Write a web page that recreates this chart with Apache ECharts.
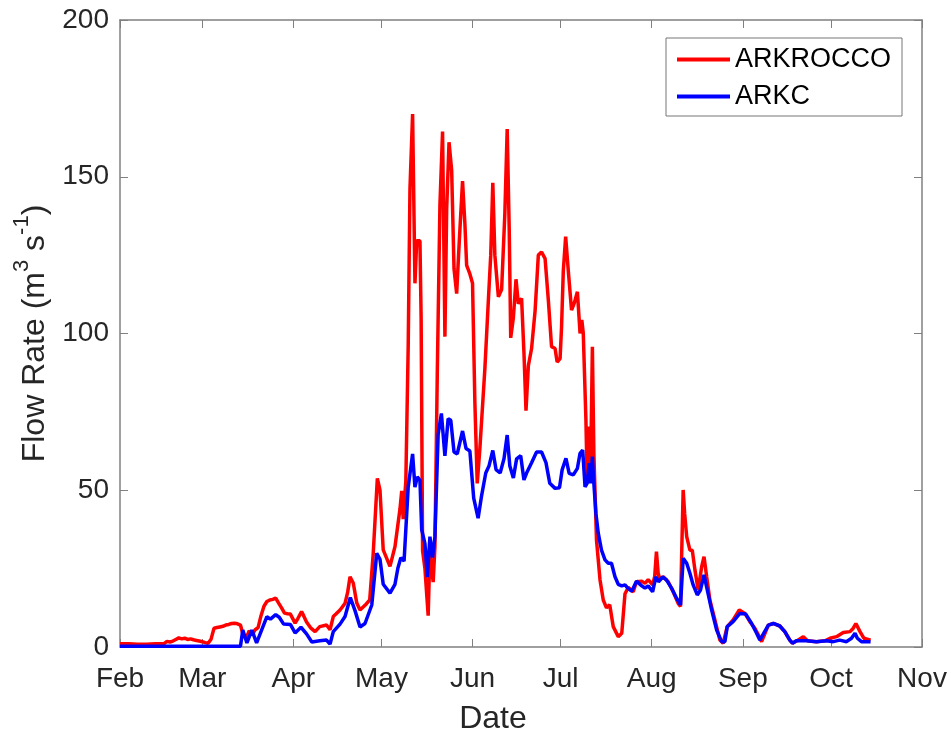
<!DOCTYPE html>
<html>
<head>
<meta charset="utf-8">
<script src="https://cdn.jsdelivr.net/npm/echarts@6/dist/echarts.min.js"></script>
<style>
html,body{margin:0;padding:0;background:#fff;}
#chart{width:951px;height:734px;}
</style>
</head>
<body>
<div id="chart"></div>
<script>
// x = days since Feb 1 (non-leap year)
var monthTicks = [0, 28, 59, 89, 120, 150, 181, 212, 242, 273];
var monthLabels = ['Feb', 'Mar', 'Apr', 'May', 'Jun', 'Jul', 'Aug', 'Sep', 'Oct', 'Nov'];
var yTicks = [0, 50, 100, 150, 200];

var rockDays = [0,3,6,9,12,15,16,17,18,19,20,21,22,23,24,25,26,27,28,29,30,31,32,33,34,35,36,37,38,39,40,41,42,43,44,45,46,47,48,49,50,51,52,53,54,55,56,57,58,59.6,60.5,61.8,62.5,63.5,65,66.4,68,70.3,71.5,72,72.6,73.5,74.9,76.6,77.5,78.3,79.4,80.6,81.7,83.4,85,86.2,87.6,88.5,89.6,91.9,93.6,95.3,95.9,96.4,97.3,98.1,98.7,99.6,100.4,101,102.1,102.5,103,103.8,104.9,105.5,106.6,107.2,108,108.9,109.8,110.6,111.2,112,112.9,113.7,114.6,115.5,116.6,117.4,118,119.1,120,120.8,121.6,122.5,124.2,125.4,126.2,126.9,127.6,128.8,129.9,131,131.8,132.5,133,133.9,134.8,135.6,136.7,137.5,138.2,139,140.1,141.3,142.4,143.5,144.7,145.8,146.9,148.1,148.8,149.8,150.3,150.9,151.7,152.6,153.7,154.6,155.7,156.6,157.2,157.7,158.6,159,159.7,160.2,160.8,161.3,162.2,163.4,164.5,165.6,166.7,167.9,169.6,170.8,171.9,173,174.7,175.8,177.6,178.7,179.8,181.3,182,182.6,183.2,183.8,184.9,186.6,188.3,190,190.8,191.2,191.7,192.2,192.9,194,194.8,195.7,196.8,198,198.8,199.7,200.8,202.5,204.2,205.3,206.7,208.7,210.8,212.7,214.4,216.1,217.6,218.4,220.7,222.4,224.6,226.3,228,228.9,230.5,232.6,234,237,240,241.7,243.9,246.2,248.5,249.6,250.5,251.9,253.2,255.5];
var rockVals = [1.0,1.0,0.9,0.9,1.0,1.1,1.8,1.6,1.9,2.4,2.9,2.6,2.8,2.4,2.6,2.3,2.1,1.9,1.7,1.4,1.2,2.5,6.0,6.2,6.4,6.6,7.0,7.2,7.5,7.6,7.4,7.0,3.5,3.0,5.2,3.8,5.5,6.2,10.0,13.0,14.5,15.0,15.2,15.6,14.0,12.5,10.8,10.6,10.5,7.6,9.0,11.3,10.0,8.0,6.0,4.9,6.5,7.0,5.5,4.9,9.7,10.5,11.8,13.9,17.5,22.4,20.4,14.0,11.8,13.3,15.0,29.9,53.8,50,31,25.7,32,44,49.8,40.8,53,95.8,146,170,116,129.6,129.6,105,30.7,25,10,30.7,20.7,32,86.9,140.8,164.4,99,139.7,161,152,120.6,112.7,129.6,148.6,135,121.7,119,116,78,52.2,63.3,88.7,110.7,125,148.1,125,111.7,114,138.2,165.2,132.7,98.6,105,117.3,109.5,111.2,94,75.4,89.7,95.2,107.3,125,126,123.9,110.7,95.8,95.2,90.9,92,102,120,130.9,120,107.5,109.6,113.3,100,104.3,100,72.4,53.3,70.3,56.5,95.8,61.8,34.1,21.4,15,12.5,13.5,6.5,3.3,4.4,17,19,17.6,20.8,21,20.3,21.5,19.8,22.4,30.4,23.5,21.4,22.4,20.8,17.6,13.9,12.9,29.9,50.1,42.6,35.2,30.9,30.9,24.6,18.2,25.6,28.8,22.4,15,8.6,2.2,1.2,6.5,8.6,11.8,10.7,8.1,6,3.3,1.7,7,7.5,6.7,4.9,2.2,1.2,2,3.3,2,1.7,2,2.8,3.3,4.6,4.9,6,7.5,4.9,2.8,2.2];

var arkcDays = [0,41,41.8,43.2,44.9,46.5,48.2,50,51.2,53,54.2,55.7,58,59.6,61.6,63.5,65.3,68,70.3,71.5,72.6,74.9,76.6,78.4,80,81.7,83.4,85.7,87.4,88.5,89.6,91.9,93.6,94.6,95.6,96.7,98.1,99.6,100.4,101.2,102.1,102.7,103.8,104.6,105.5,106.4,107.2,108.3,109.4,110.6,111.7,112.6,113.7,114.8,116.6,117.8,119.1,120.4,121.9,123,124.5,125.6,126.9,128,129.4,130.7,131.8,132.7,133.9,135,136.4,137.5,138.4,140.1,141.8,143.5,145,146.3,148.1,149.6,150.5,151.8,152.9,154.3,155.7,156.6,157.5,158.3,159,159.7,160.2,160.8,161.3,162,162.8,163.9,165.1,166.2,167.3,168.5,169.6,170.8,171.9,173,174.2,175.8,177.6,178.7,179.8,181.3,182.4,183.3,184.7,186,187.8,189.5,190.8,191.7,192.9,194,195.1,196.5,197.6,198.8,199.9,201.4,203.1,204.8,205.9,206.7,208.7,211,213,215,216.7,217.8,218.4,220.7,222.4,224.6,226.3,228,228.9,230.2,233.7,237.1,240.5,242.8,245,247.3,249,250.2,251,252.4,255.5];
var arkcVals = [0.2,0.2,5.4,1.3,5.4,1.3,5.4,9.7,8.9,10.3,9.5,7.3,7.2,4.5,6.3,4.2,1.6,2,2.2,0.9,4.9,7.3,9.7,15.8,11.6,6.4,7.5,13.4,29.9,28,20,17.2,20,25.2,28.5,27.4,51,61.6,51,54.3,53.2,37.4,33,22.3,35.2,28.5,35.2,67.8,74.5,61,72.8,72.3,62.2,61.6,68.9,63.3,62.5,47.5,41.1,47.8,55.5,57.7,62.7,56.6,55.5,60,67.6,57.7,53.9,60,61,53.3,55.5,58.8,62.2,62.2,58.8,52.2,50.6,50.8,56.5,60.2,55.4,54.9,57,61.8,62.8,51.1,52.2,58.6,52.2,60.7,52.2,42.6,36.3,30.9,27.8,26.7,26.7,22.4,20,19.5,19.8,18.6,17.8,21,19.5,18.8,19.5,17.6,22.4,20.8,22.4,21.4,18.7,15.5,13.4,28.3,26.7,23.5,19.8,16.6,18.2,23,18.2,11.8,5.4,1.7,1.7,6.5,8.1,10.7,10.5,7.5,4.4,2.2,1.7,7,7.5,6.7,4.9,2.2,1.2,2,2,1.7,2,1.7,2.2,1.7,2.8,4.4,2.8,1.7,1.7];

function pairs(xs, ys) { return xs.map(function (x, i) { return [x, ys[i]]; }); }

var FONT = '"Liberation Sans", Arial, Helvetica, sans-serif';
var AX = '#808080';
var TXT = '#262626';

var chart = echarts.init(document.getElementById('chart'), null, {renderer: 'canvas'});
chart.setOption({
  animation: false,
  backgroundColor: '#ffffff',
  textStyle: {fontFamily: FONT},
  grid: {left: 120, right: 29, top: 20, bottom: 87, containLabel: false, outerBoundsMode: 'none'},
  legend: {
    orient: 'vertical',
    left: 666, top: 38,
    data: ['ARKROCCO', 'ARKC'],
    icon: 'rect',
    itemWidth: 53, itemHeight: 4,
    itemGap: 10,
    padding: [8, 11, 6, 11],
    borderColor: '#777', borderWidth: 1, backgroundColor: '#ffffff',
    textStyle: {fontSize: 27, color: '#000', fontFamily: FONT}
  },
  xAxis: [{
    type: 'value', min: 0, max: 273, position: 'bottom',
    name: 'Date', nameLocation: 'middle', nameGap: 56,
    nameTextStyle: {fontSize: 32, color: TXT, fontFamily: FONT, padding: [0, 56, 0, 0]},
    axisLine: {show: true, onZero: false, lineStyle: {color: AX, width: 1.5}},
    axisTick: {show: true, inside: true, length: 8, customValues: monthTicks, lineStyle: {color: AX, width: 1}},
    axisLabel: {show: true, customValues: monthTicks, margin: 18, fontSize: 28, color: TXT, fontFamily: FONT,
      formatter: function (v) { var i = monthTicks.indexOf(Math.round(v)); return i >= 0 ? monthLabels[i] : ''; }},
    splitLine: {show: false}
  }, {
    type: 'value', min: 0, max: 273, position: 'top',
    axisLine: {show: true, onZero: false, lineStyle: {color: AX, width: 1.5}},
    axisTick: {show: true, inside: true, length: 8, customValues: monthTicks, lineStyle: {color: AX, width: 1}},
    axisLabel: {show: false},
    splitLine: {show: false}
  }],
  yAxis: [{
    type: 'value', min: 0, max: 200, interval: 50, position: 'left',
    name: '{b|Flow Rate (m}{sup|3}{b| s}{sup|-1}{b|)}', nameLocation: 'middle', nameGap: 62, nameRotate: 90,
    nameTextStyle: {fontSize: 32, color: TXT, fontFamily: FONT,
      rich: {
        b: {fontSize: 32, color: TXT, fontFamily: FONT, verticalAlign: 'bottom', lineHeight: 40},
        sup: {fontSize: 22, color: TXT, fontFamily: FONT, verticalAlign: 'top', lineHeight: 40}
      }},
    axisLine: {show: true, onZero: false, lineStyle: {color: AX, width: 1.5}},
    axisTick: {show: true, inside: true, length: 8, lineStyle: {color: AX, width: 1}},
    axisLabel: {show: true, margin: 11, fontSize: 28, color: TXT, fontFamily: FONT, padding: [8, 0, 0, 0],
      formatter: function (v) { return yTicks.indexOf(v) >= 0 ? String(v) : ''; }},
    splitLine: {show: false}
  }, {
    type: 'value', min: 0, max: 200, interval: 50, position: 'right',
    axisLine: {show: true, onZero: false, lineStyle: {color: AX, width: 1.5}},
    axisTick: {show: true, inside: true, length: 8, lineStyle: {color: AX, width: 1}},
    axisLabel: {show: false},
    splitLine: {show: false}
  }],
  series: [{
    name: 'ARKROCCO', type: 'line', xAxisIndex: 0, yAxisIndex: 0,
    data: pairs(rockDays, rockVals), showSymbol: false, symbol: 'none',
    lineStyle: {color: '#ff0000', width: 3.5}, itemStyle: {color: '#ff0000'}
  }, {
    name: 'ARKC', type: 'line', xAxisIndex: 0, yAxisIndex: 0,
    data: pairs(arkcDays, arkcVals), showSymbol: false, symbol: 'none',
    lineStyle: {color: '#0000ff', width: 3.5}, itemStyle: {color: '#0000ff'}
  }]
});
</script>
</body>
</html>
